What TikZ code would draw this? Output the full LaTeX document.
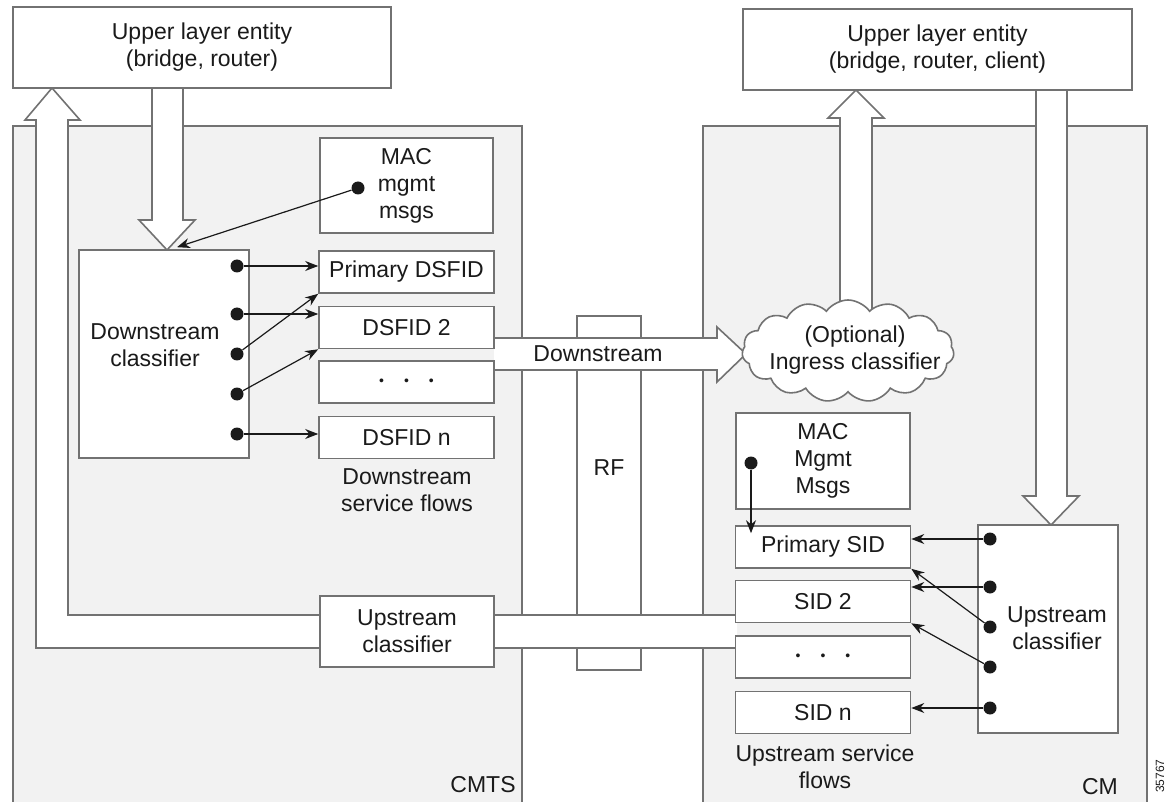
\documentclass[tikz,border=0pt]{standalone}
\usepackage{fontspec}
\setmainfont{Liberation Sans}
\usepackage{xcolor}
\usetikzlibrary{calc,arrows.meta,shapes.symbols}
\definecolor{panel}{HTML}{F2F2F2}
\definecolor{edge}{HTML}{727272}
\definecolor{ink}{HTML}{1A1A1A}
\newcommand{\flowdots}{{\fontsize{7}{7}\selectfont\textbullet\hspace{10pt}\textbullet\hspace{10pt}\textbullet}}
\tikzset{
  panelbg/.style={fill=panel, draw=edge, line width=0.8pt},
  box/.style={draw=edge, fill=white, line width=0.8pt, inner sep=0pt, align=center, text=ink, font=\fontsize{11.5}{13.5}\selectfont},
  flow/.style={box, minimum width=87.5pt, minimum height=21pt},
  fat/.style={draw=edge, fill=white, line width=0.8pt, line join=miter},
  sig/.style={draw=ink, line width=0.6pt, -{Stealth[length=6.5pt,width=5pt]}},
  dot/.style={circle, fill=ink, inner sep=0pt, minimum size=6.5pt},
  lab/.style={text=ink, inner sep=0pt, align=center, font=\fontsize{11.5}{13.5}\selectfont},
}

\begin{document}
\begin{tikzpicture}[x=0.5pt, y=-0.5pt]
  \useasboundingbox (0,0) rectangle (1173,802);

  % CMTS and CM panels
  \path[panelbg] (13,802) -- (13,126) -- (522,126) -- (522,802);
  \path[panelbg] (703,802) -- (703,126) -- (1147,126) -- (1147,802);

  % RF medium
  \node[box, minimum width=32pt, minimum height=177pt] (rf) at (609,493) {};
  \node[lab] (rftxt) at (609,468) {RF};

  % hollow data paths
  \draw[fat] (152,88) -- (152,220) -- (139,220) -- (167,250) -- (195,220) -- (183,220) -- (183,88);
  \draw[fat] (737,648) -- (36,648) -- (36,120) -- (25,120) -- (52,88) -- (80,120) -- (68,120) -- (68,615) -- (737,615);
  \draw[fat] (494,338) -- (717,338) -- (717,327) -- (746,354) -- (717,382) -- (717,370) -- (494,370);
  \draw[fat] (840,320) -- (840,118) -- (828,118) -- (856,90) -- (884,118) -- (872,118) -- (872,320);
  \draw[fat] (1036,90) -- (1036,496) -- (1023,496) -- (1051,525) -- (1079,496) -- (1067,496) -- (1067,90);
  \node[lab] (dstxt) at (598,354) {Downstream};

  % upper layers
  \node[box, minimum width=189pt, minimum height=40.5pt] (ulL) at (202,47.5) {Upper layer entity\\(bridge, router)};
  \node[box, minimum width=194.5pt, minimum height=40.5pt] (ulR) at (937.5,49.5) {Upper layer entity\\(bridge, router, client)};

  % CMTS
  \node[box, minimum width=86.5pt, minimum height=47.5pt] (macL) at (406.5,185.5) {MAC\\mgmt\\msgs};
  \node[box, minimum width=85pt, minimum height=104pt] (dcl) at (164,354) {};
  \node[lab] (dcltxt) at (155,345) {Downstream\\classifier};
  \node[flow] (pdsfid) at (406.5,272) {Primary DSFID};
  \node[flow] (dsfid2) at (406.5,327.5) {DSFID 2};
  \node[flow] (dsfidx) at (406.5,382) {\flowdots};
  \node[flow] (dsfidn) at (406.5,437.5) {DSFID n};
  \node[lab] (dsflows) at (407,490) {Downstream\\service flows};
  \node[box, minimum width=87pt, minimum height=35.5pt] (ucL) at (407,631.5) {Upstream\\classifier};
  \node[lab, anchor=east] (cmts) at (516,785) {CMTS};

  \foreach \n/\y in {1/266,2/314,3/354,4/394,5/434}
    \node[dot] (dd\n) at (237,\y) {};
  \draw[sig] (dd1) -- (dd1 -| pdsfid.west);
  \draw[sig] (dd2) -- (dd2 -| dsfid2.west);
  \draw[sig] (dd3) -- (pdsfid.south west);
  \draw[sig] (dd4) -- (dsfid2.south west);
  \draw[sig] (dd5) -- (dd5 -| dsfidn.west);
  \node[dot] (mdL) at (358,188) {};
  \draw[sig] (mdL) -- ($(dcl.north)+(13,-2)$);

  % CM
  \node[cloud, draw=edge, fill=white, line width=0.8pt, cloud puffs=15, cloud puff arc=110,
        cloud ignores aspect, minimum width=106pt, minimum height=51pt, inner sep=0pt] (ing) at (848,351) {};
  \node[lab] (ingtxt) at (855,350) {(Optional)\\Ingress classifier};
  \node[box, minimum width=87pt, minimum height=48pt] (macR) at (823,461) {MAC\\Mgmt\\Msgs};
  \node[flow] (psid) at (823,547) {Primary SID};
  \node[flow] (sid2) at (823,601.5) {SID 2};
  \node[flow] (sidx) at (823,657) {\flowdots};
  \node[flow] (sidn) at (823,712.5) {SID n};
  \node[lab] (usflows) at (825,767) {Upstream service\\flows};
  \node[box, minimum width=70pt, minimum height=104pt] (ucR) at (1048,629) {};
  \node[lab] (ucrtxt) at (1057,628) {Upstream\\classifier};
  \node[lab] (cm) at (1100,787) {CM};
  \node[lab, rotate=90, font=\fontsize{6}{7}\selectfont] (figid) at (1160,776) {35767};

  \foreach \n/\y in {1/539,2/587,3/627,4/667,5/708}
    \node[dot] (ud\n) at (990,\y) {};
  \draw[sig] (ud1) -- (ud1 -| psid.east);
  \draw[sig] (ud2) -- (ud2 -| sid2.east);
  \draw[sig] (ud3) -- (psid.south east);
  \draw[sig] (ud4) -- (sid2.south east);
  \draw[sig] (ud5) -- (ud5 -| sidn.east);
  \node[dot] (mdR) at (751,463) {};
  \draw[sig] (mdR) -- ($(mdR |- psid.north)+(0,8)$);
\end{tikzpicture}
\end{document}
